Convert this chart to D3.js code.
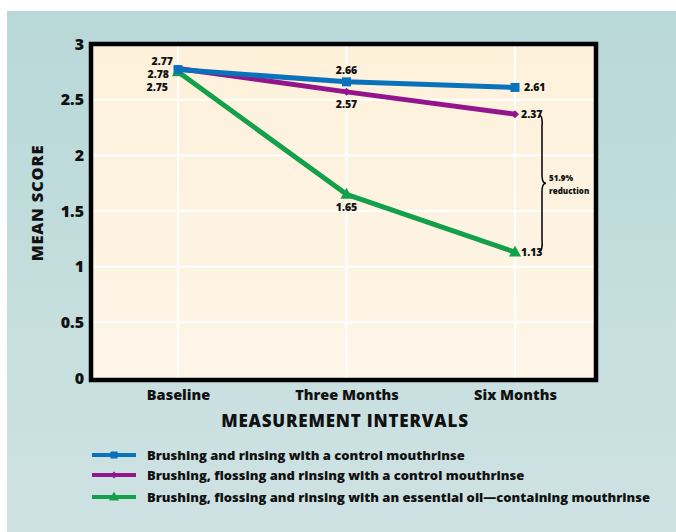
<!DOCTYPE html>
<html>
<head>
<meta charset="utf-8">
<script src="https://cdn.jsdelivr.net/npm/d3@7"></script>
<style>
  html, body { margin: 0; padding: 0; background: #ffffff; }
  svg { display: block; }
  text { font-family: "Open Sans", "DejaVu Sans", sans-serif; font-weight: 800; fill: #111; }
</style>
</head>
<body>
<svg id="chart" width="676" height="532"></svg>
<script>
// ---- data ----
const categories = ["Baseline", "Three Months", "Six Months"];
const seriesNames = [
  "Brushing and rinsing with a control mouthrinse",
  "Brushing, flossing and rinsing with a control mouthrinse",
  "Brushing, flossing and rinsing with an essential oil\u2014containing mouthrinse"
];
const blueValues = [2.77, 2.66, 2.61];
const purpleValues = [2.78, 2.57, 2.37];
const greenValues = [2.75, 1.65, 1.13];
const yTicks = [0, 0.5, 1, 1.5, 2, 2.5, 3];
const yTickLabels = ["0", "0.5", "1", "1.5", "2", "2.5", "3"];
const xTitle = "MEASUREMENT INTERVALS";
const yTitle = "MEAN SCORE";
const bracketText = ["51.9%", "reduction"];

const colors = ["#0a72ba", "#93158c", "#13a04b"];
const markers = ["square", "diamond", "triangle"];
const allValues = [blueValues, purpleValues, greenValues];

const svg = d3.select("#chart");
const defs = svg.append("defs");
const bg = defs.append("linearGradient").attr("id", "bg").attr("x1", 0).attr("y1", 0).attr("x2", 0).attr("y2", 1);
bg.append("stop").attr("offset", "0%").attr("stop-color", "#b8d8d7");
bg.append("stop").attr("offset", "100%").attr("stop-color", "#cfe2e3");
const pg = defs.append("linearGradient").attr("id", "pg").attr("x1", 0).attr("y1", 0).attr("x2", 0).attr("y2", 1);
pg.append("stop").attr("offset", "0%").attr("stop-color", "#fdf1da");
pg.append("stop").attr("offset", "100%").attr("stop-color", "#fef5e9");

// background panel
svg.append("rect").attr("x", 7).attr("y", 11).attr("width", 669).attr("height", 521).attr("fill", "url(#bg)");

const plot = { left: 91, top: 44, right: 596, bottom: 380 };
const x = d3.scalePoint().domain(categories).range([178, 515]);
const y = d3.scaleLinear().domain([0, 3]).range([378, 44]);

// plot background
svg.append("rect").attr("x", plot.left).attr("y", plot.top)
  .attr("width", plot.right - plot.left).attr("height", plot.bottom - plot.top)
  .attr("fill", "url(#pg)");

// gridlines
const g = svg.append("g");
g.selectAll(".hg").data(yTicks.filter(d => d > 0 && d < 3)).enter().append("line")
  .attr("x1", plot.left).attr("x2", plot.right)
  .attr("y1", d => y(d)).attr("y2", d => y(d))
  .attr("stroke", "#ffffff").attr("stroke-width", 2);
g.selectAll(".vg").data(categories).enter().append("line")
  .attr("x1", d => x(d)).attr("x2", d => x(d))
  .attr("y1", plot.top).attr("y2", plot.bottom)
  .attr("stroke", "#ffffff").attr("stroke-width", 2);

// frame
svg.append("rect").attr("x", plot.left).attr("y", plot.top)
  .attr("width", plot.right - plot.left).attr("height", plot.bottom - plot.top)
  .attr("fill", "none").attr("stroke", "#000").attr("stroke-width", 4.5);

// y axis tick labels
const yAxis = d3.axisLeft(y).tickValues(yTicks).tickFormat((d, i) => yTickLabels[i]).tickSize(0).tickPadding(5);
const ya = svg.append("g").attr("transform", `translate(${plot.left - 2},0)`).call(yAxis);
ya.select(".domain").remove();
ya.selectAll("text").attr("font-size", 16).attr("fill", "#111")
  .style("font-family", '"Open Sans", sans-serif').style("font-weight", 800);

// x axis labels
const xAxis = d3.axisBottom(x).tickSize(0).tickPadding(0);
const xa = svg.append("g").attr("transform", `translate(0,388)`).call(xAxis);
xa.select(".domain").remove();
xa.selectAll("text").attr("font-size", 14.5).attr("fill", "#111").attr("dy", "0.8em")
  .style("font-family", '"Open Sans", sans-serif').style("font-weight", 800);

// titles
svg.append("text").attr("x", 345).attr("y", 427).attr("text-anchor", "middle")
  .attr("font-size", 17).attr("letter-spacing", 0.8).text(xTitle);
svg.append("text").attr("transform", "translate(43,203) rotate(-90)").attr("text-anchor", "middle")
  .attr("font-size", 16.5).attr("letter-spacing", 0.8).text(yTitle);

// lines & markers
const line = d3.line().x((d, i) => x(categories[i])).y(d => y(d));
function drawMarker(sel, type, cx, cy, color, s) {
  if (type === "square") {
    sel.append("rect").attr("x", cx - s / 2).attr("y", cy - s / 2).attr("width", s).attr("height", s).attr("fill", color);
  } else if (type === "diamond") {
    sel.append("path").attr("d", `M${cx},${cy - s / 2}L${cx + s / 2},${cy}L${cx},${cy + s / 2}L${cx - s / 2},${cy}Z`).attr("fill", color);
  } else {
    sel.append("path").attr("d", `M${cx},${cy - s * 0.6}L${cx + s * 0.55},${cy + s * 0.4}L${cx - s * 0.55},${cy + s * 0.4}Z`).attr("fill", color);
  }
}
const msizes = [9, 8, 11];
const order = [2, 1, 0];
order.forEach(si => {
  const vals = allValues[si];
  svg.append("path").datum(vals).attr("d", line).attr("fill", "none")
    .attr("stroke", colors[si]).attr("stroke-width", 5).attr("stroke-linejoin", "round");
  const mg = svg.append("g");
  vals.forEach((v, i) => drawMarker(mg, markers[si], x(categories[i]), y(v), colors[si], msizes[si]));
});

// value labels
const lab = svg.append("g").attr("font-size", 10.5);
function addLabel(txt, lx, ly, anchor) {
  lab.append("text").attr("x", lx).attr("y", ly).attr("text-anchor", anchor).text(txt);
}
// baseline labels (stacked to the left)
addLabel(blueValues[0].toFixed(2), 173, 65, "end");
addLabel(purpleValues[0].toFixed(2), 169, 78, "end");
addLabel(greenValues[0].toFixed(2), 168, 91, "end");
// three months
addLabel(blueValues[1].toFixed(2), x(categories[1]), y(blueValues[1]) - 8, "middle");
addLabel(purpleValues[1].toFixed(2), x(categories[1]), y(purpleValues[1]) + 16, "middle");
addLabel(greenValues[1].toFixed(2), x(categories[1]), y(greenValues[1]) + 17, "middle");
// six months
addLabel(blueValues[2].toFixed(2), x(categories[2]) + 9, y(blueValues[2]) + 4, "start");
addLabel(purpleValues[2].toFixed(2), x(categories[2]) + 6, y(purpleValues[2]) + 4, "start");
addLabel(greenValues[2].toFixed(2), x(categories[2]) + 6, y(greenValues[2]) + 4, "start");

// bracket
const bx = 541, by1 = y(purpleValues[2]) + 1, by2 = y(greenValues[2]) - 1, bm = (by1 + by2) / 2;
svg.append("path")
  .attr("d", `M${bx - 2},${by1} Q${bx + 2},${by1} ${bx + 1},${by1 + 12} L${bx + 1},${bm - 8} Q${bx + 1},${bm} ${bx + 5},${bm} Q${bx + 1},${bm} ${bx + 1},${bm + 8} L${bx + 1},${by2 - 12} Q${bx + 2},${by2} ${bx - 2},${by2}`)
  .attr("fill", "none").attr("stroke", "#000").attr("stroke-width", 1.5);
svg.append("text").attr("x", 549).attr("y", bm - 2).attr("font-size", 8).text(bracketText[0]);
svg.append("text").attr("x", 549).attr("y", bm + 11).attr("font-size", 8).text(bracketText[1]);

// legend
const legY = [455, 475, 497];
const leg = svg.append("g");
seriesNames.forEach((name, i) => {
  leg.append("line").attr("x1", 92).attr("x2", 136).attr("y1", legY[i]).attr("y2", legY[i])
    .attr("stroke", colors[i]).attr("stroke-width", 4);
  drawMarker(leg, markers[i], 114, legY[i], colors[i], i === 2 ? 9 : 7);
  leg.append("text").attr("x", 147).attr("y", legY[i] + 4.5).attr("font-size", 13).text(name);
});
</script>
</body>
</html>
